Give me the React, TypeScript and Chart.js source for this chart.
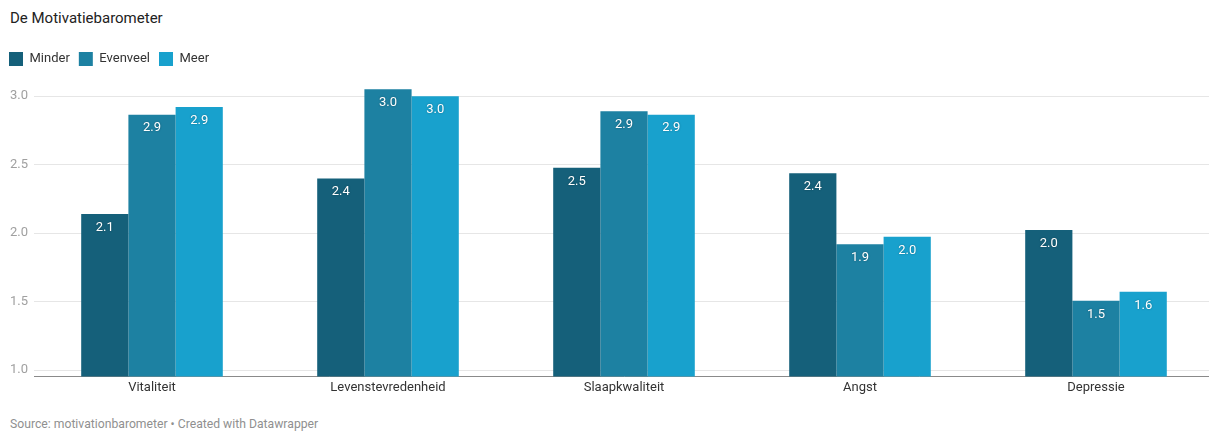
import React, { useEffect, useRef } from "react";
import { Chart, registerables } from "chart.js";

Chart.register(...registerables);

const categories = ["Vitaliteit", "Levenstevredenheid", "Slaapkwaliteit", "Angst", "Depressie"];
const seriesNames = ["Minder", "Evenveel", "Meer"];
const minder = [2.139, 2.398, 2.476, 2.437, 2.023];
const evenveel = [2.864, 3.049, 2.889, 1.919, 1.506];
const meer = [2.92, 2.998, 2.864, 1.973, 1.571];
const seriesColors = ["#15607a", "#1d81a2", "#18a1cd"];
const yTicks = [1.0, 1.5, 2.0, 2.5, 3.0];

const valueLabels = {
  id: "valueLabels",
  afterDatasetsDraw(chart: any) {
    const ctx = chart.ctx;
    ctx.save();
    ctx.font = "13px Roboto";
    ctx.fillStyle = "#ffffff";
    ctx.textAlign = "center";
    ctx.textBaseline = "middle";
    ctx.shadowColor = "rgba(0,0,0,0.35)";
    ctx.shadowBlur = 2;
    chart.data.datasets.forEach((ds: any, i: number) => {
      const meta = chart.getDatasetMeta(i);
      meta.data.forEach((el: any, j: number) => {
        const v = ds.data[j] as number;
        ctx.fillText(v.toFixed(1), el.x, el.y + 13.5);
      });
    });
    ctx.restore();
  },
};

export default function App() {
  const ref = useRef<HTMLCanvasElement | null>(null);
  useEffect(() => {
    if (!ref.current) return;
    Chart.defaults.font.family = "Roboto";
    const data = [minder, evenveel, meer];
    const chart = new Chart(ref.current, {
      type: "bar",
      data: {
        labels: categories,
        datasets: seriesNames.map((name, i) => ({
          label: name,
          data: data[i],
          backgroundColor: seriesColors[i],
          borderWidth: 0,
          categoryPercentage: 0.6,
          barPercentage: 1.0,
        })),
      },
      options: {
        responsive: false,
        animation: false,
        layout: { padding: { left: 0, right: 0, top: 0, bottom: 5 } },
        plugins: {
          legend: {
            display: true,
            position: "top",
            align: "start",
            labels: {
              boxWidth: 14,
              boxHeight: 14,
              padding: 9,
              color: "#333333",
              font: { size: 13, family: "Roboto" },
            },
          },
          tooltip: { enabled: false },
          title: { display: false },
        },
        scales: {
          x: {
            grid: { display: false, drawTicks: false },
            border: { display: true, color: "#8a8a8a", width: 1 },
            ticks: { color: "#333333", font: { size: 13, family: "Roboto" }, padding: 4, maxRotation: 0 },
          },
          y: {
            min: 0.954,
            max: 3.146,
            afterBuildTicks: (scale: any) => {
              scale.ticks = yTicks.map((v) => ({ value: v }));
            },
            afterFit: (scale: any) => {
              scale.width = 34;
            },
            grid: { color: "#e6e6e6", drawTicks: false },
            border: { display: false },
            ticks: {
              color: "#a0a0a0",
              padding: 6,
              font: { size: 13, family: "Roboto" },
              callback: (v: any) => Number(v).toFixed(1),
            },
          },
        },
      },
      plugins: [valueLabels],
    });
    return () => chart.destroy();
  }, []);

  return (
    <div
      style={{
        position: "fixed",
        left: 0,
        top: 0,
        width: 1209,
        height: 432,
        overflow: "hidden",
        background: "#ffffff",
        fontFamily: "Roboto",
      }}
    >
      <div style={{ position: "absolute", left: 10, top: 8, fontSize: 15, color: "#222222", lineHeight: "20px" }}>
        De Motivatiebarometer
      </div>
      <canvas
        ref={ref}
        width={1214}
        height={362}
        style={{ position: "absolute", left: 0, top: 43, width: 1214, height: 362 }}
      />
      <div style={{ position: "absolute", left: 10, top: 416, fontSize: 12.2, color: "#909090", lineHeight: "16px" }}>
        Source: motivationbarometer • Created with Datawrapper
      </div>
    </div>
  );
}
